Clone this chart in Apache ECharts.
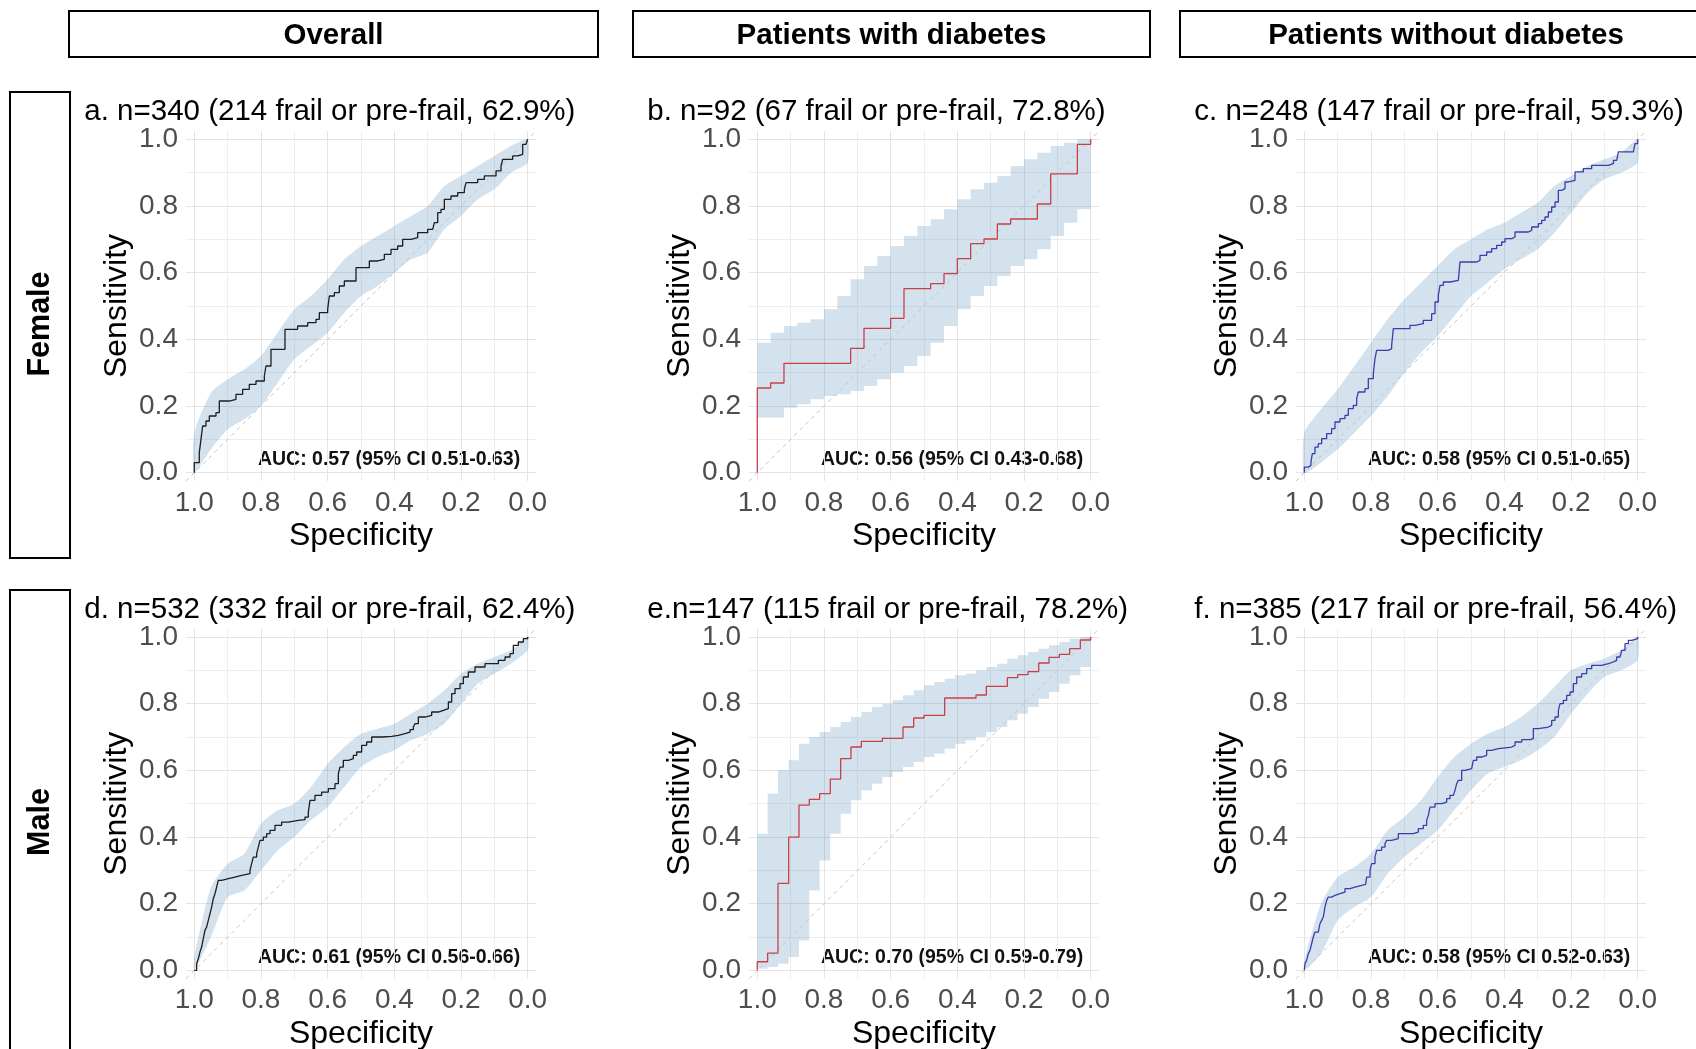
<!DOCTYPE html>
<html>
<head>
<meta charset="utf-8">
<script src="https://cdn.jsdelivr.net/npm/echarts@6.0.0/dist/echarts.min.js"></script>
<style>
html, body { margin: 0; padding: 0; background: #ffffff; }
#chart { width: 1696px; height: 1049px; }
</style>
</head>
<body>
<div id="chart"></div>
<script>
// ------------------------- DATA -------------------------
const colHeaders = ['Overall', 'Patients with diabetes', 'Patients without diabetes'];
const rowHeaders = ['Female', 'Male'];
const panelTitles = [
  'a. n=340 (214 frail or pre-frail, 62.9%)',
  'b. n=92 (67 frail or pre-frail, 72.8%)',
  'c. n=248 (147 frail or pre-frail, 59.3%)',
  'd. n=532 (332 frail or pre-frail, 62.4%)',
  'e.n=147 (115 frail or pre-frail, 78.2%)',
  'f. n=385 (217 frail or pre-frail, 56.4%)'
];
const aucTexts = [
  'AUC: 0.57 (95% CI 0.51-0.63)',
  'AUC: 0.56 (95% CI 0.43-0.68)',
  'AUC: 0.58 (95% CI 0.51-0.65)',
  'AUC: 0.61 (95% CI 0.56-0.66)',
  'AUC: 0.70 (95% CI 0.59-0.79)',
  'AUC: 0.58 (95% CI 0.52-0.63)'
];
const axisTickValues = [0.0, 0.2, 0.4, 0.6, 0.8, 1.0];
const refLine = [[1.025, -0.025], [-0.025, 1.025]];

// ROC curves (specificity, sensitivity)
const aSpec = [1,1,0.985,0.98,0.975,0.965,0.955,0.935,0.925,0.895,0.875,0.855,0.835,0.815,0.79,0.785,0.77,0.728,0.69,0.66,0.635,0.625,0.60,0.595,0.58,0.565,0.55,0.515,0.475,0.45,0.43,0.41,0.39,0.375,0.35,0.33,0.30,0.285,0.28,0.27,0.26,0.25,0.23,0.21,0.19,0.185,0.15,0.13,0.095,0.08,0.075,0.045,0.03,0.015,0.005,0];
const aSens = [0,0.03,0.06,0.10,0.14,0.155,0.17,0.18,0.215,0.22,0.235,0.25,0.265,0.275,0.29,0.32,0.37,0.43,0.44,0.45,0.46,0.48,0.49,0.53,0.54,0.56,0.575,0.615,0.635,0.64,0.655,0.67,0.68,0.70,0.705,0.72,0.73,0.735,0.75,0.78,0.79,0.82,0.83,0.84,0.85,0.87,0.88,0.89,0.905,0.92,0.94,0.95,0.955,0.985,0.99,1.0];

const bSpec = [1,1,0.96,0.92,0.72,0.68,0.60,0.56,0.48,0.44,0.40,0.36,0.32,0.28,0.24,0.16,0.12,0.04,0];
const bSens = [0,0.254,0.269,0.328,0.373,0.433,0.463,0.552,0.567,0.597,0.642,0.687,0.701,0.746,0.761,0.806,0.896,0.985,1];

const cSpec = [1,1,0.988,0.98,0.976,0.968,0.958,0.948,0.933,0.918,0.908,0.893,0.878,0.868,0.853,0.843,0.838,0.818,0.808,0.793,0.788,0.783,0.748,0.738,0.733,0.683,0.668,0.643,0.618,0.608,0.598,0.593,0.583,0.563,0.538,0.533,0.483,0.473,0.453,0.438,0.423,0.408,0.398,0.378,0.368,0.328,0.318,0.298,0.288,0.278,0.268,0.258,0.248,0.238,0.228,0.218,0.208,0.188,0.163,0.138,0.088,0.073,0.063,0.058,0.013,0.008,0];
const cSens = [0,0.017,0.022,0.032,0.057,0.077,0.087,0.102,0.117,0.132,0.152,0.162,0.172,0.192,0.202,0.222,0.242,0.252,0.282,0.297,0.342,0.367,0.372,0.382,0.432,0.442,0.447,0.457,0.477,0.512,0.532,0.562,0.572,0.577,0.582,0.632,0.637,0.652,0.662,0.672,0.682,0.692,0.702,0.707,0.722,0.727,0.737,0.747,0.757,0.767,0.782,0.797,0.812,0.847,0.852,0.872,0.877,0.902,0.912,0.922,0.927,0.937,0.942,0.962,0.967,0.987,1.0];

const dSpec = [1,0.993,0.988,0.983,0.978,0.973,0.968,0.963,0.958,0.953,0.948,0.943,0.938,0.933,0.928,0.918,0.898,0.878,0.858,0.833,0.828,0.823,0.813,0.808,0.803,0.793,0.783,0.773,0.758,0.738,0.718,0.688,0.668,0.658,0.653,0.638,0.618,0.598,0.578,0.568,0.563,0.553,0.538,0.523,0.513,0.498,0.483,0.468,0.438,0.408,0.388,0.368,0.353,0.343,0.338,0.328,0.308,0.288,0.268,0.253,0.238,0.228,0.218,0.203,0.193,0.178,0.158,0.128,0.088,0.068,0.053,0.043,0.028,0.013,0];
const dSens = [0,0.02,0.035,0.055,0.07,0.095,0.12,0.13,0.15,0.17,0.19,0.215,0.23,0.25,0.27,0.275,0.28,0.285,0.29,0.30,0.32,0.34,0.35,0.37,0.39,0.40,0.41,0.42,0.435,0.445,0.45,0.452,0.46,0.475,0.51,0.525,0.535,0.545,0.56,0.59,0.61,0.63,0.635,0.645,0.655,0.675,0.685,0.70,0.702,0.705,0.71,0.715,0.722,0.73,0.74,0.76,0.765,0.775,0.78,0.785,0.805,0.83,0.845,0.86,0.88,0.895,0.91,0.92,0.93,0.94,0.95,0.975,0.985,0.995,1];

const eSpec = [1,1,0.969,0.938,0.906,0.875,0.844,0.813,0.781,0.75,0.719,0.688,0.625,0.563,0.531,0.5,0.438,0.344,0.313,0.25,0.219,0.188,0.156,0.125,0.094,0.063,0.031,0];
const eSens = [0,0.026,0.052,0.261,0.4,0.496,0.513,0.530,0.574,0.635,0.670,0.687,0.696,0.730,0.757,0.765,0.817,0.826,0.852,0.878,0.887,0.896,0.922,0.939,0.948,0.965,0.991,1];

const fSpec = [1,0.998,0.993,0.988,0.983,0.978,0.973,0.968,0.958,0.953,0.948,0.943,0.938,0.933,0.928,0.918,0.908,0.893,0.878,0.863,0.848,0.828,0.816,0.813,0.803,0.798,0.788,0.783,0.768,0.758,0.753,0.738,0.718,0.673,0.658,0.643,0.633,0.628,0.623,0.608,0.588,0.573,0.563,0.553,0.548,0.543,0.538,0.528,0.518,0.498,0.493,0.483,0.468,0.453,0.438,0.418,0.403,0.378,0.368,0.348,0.323,0.313,0.298,0.268,0.258,0.248,0.238,0.233,0.223,0.213,0.203,0.193,0.183,0.168,0.153,0.138,0.108,0.088,0.073,0.063,0.053,0.048,0.038,0.028,0.018,0];
const fSens = [0,0.02,0.03,0.05,0.06,0.08,0.10,0.115,0.12,0.14,0.15,0.16,0.19,0.21,0.22,0.225,0.23,0.235,0.245,0.25,0.255,0.258,0.26,0.28,0.30,0.32,0.34,0.36,0.37,0.38,0.39,0.395,0.41,0.415,0.425,0.435,0.45,0.465,0.49,0.50,0.505,0.515,0.525,0.53,0.54,0.56,0.57,0.60,0.605,0.61,0.63,0.64,0.645,0.66,0.665,0.667,0.67,0.675,0.685,0.692,0.695,0.725,0.73,0.735,0.75,0.76,0.78,0.80,0.81,0.825,0.835,0.86,0.88,0.89,0.905,0.915,0.92,0.925,0.93,0.94,0.945,0.96,0.98,0.99,0.995,1];

// 95% CI bands of sensitivity
const bandGrid = [1,0.95,0.9,0.85,0.8,0.75,0.7,0.65,0.6,0.55,0.5,0.45,0.4,0.35,0.3,0.25,0.2,0.15,0.1,0.05,0];
const aHi = [0.12,0.24,0.28,0.31,0.35,0.42,0.49,0.53,0.58,0.64,0.68,0.71,0.74,0.77,0.80,0.86,0.89,0.92,0.95,0.98,1.0];
const aLo = [0,0.07,0.13,0.16,0.20,0.27,0.34,0.38,0.42,0.48,0.53,0.56,0.60,0.64,0.66,0.73,0.77,0.82,0.85,0.90,0.93];
const cHi = [0.12,0.19,0.25,0.32,0.39,0.46,0.52,0.57,0.62,0.67,0.70,0.73,0.75,0.78,0.81,0.86,0.89,0.92,0.94,0.96,1.0];
const cLo = [0,0.03,0.07,0.12,0.17,0.23,0.30,0.36,0.41,0.47,0.53,0.57,0.61,0.64,0.67,0.72,0.78,0.84,0.88,0.90,0.93];
const dHi = [0.04,0.25,0.32,0.35,0.44,0.48,0.50,0.55,0.62,0.67,0.71,0.725,0.74,0.77,0.80,0.84,0.89,0.92,0.94,0.96,1.0];
const dLo = [0,0.10,0.22,0.24,0.30,0.36,0.40,0.45,0.49,0.55,0.61,0.64,0.66,0.69,0.71,0.74,0.80,0.86,0.89,0.92,0.96];
const fHi = [0.03,0.20,0.28,0.31,0.35,0.42,0.46,0.51,0.58,0.64,0.68,0.71,0.73,0.76,0.80,0.85,0.90,0.92,0.935,0.96,1.0];
const fLo = [0,0.05,0.15,0.19,0.22,0.29,0.34,0.38,0.42,0.48,0.54,0.59,0.61,0.63,0.66,0.70,0.77,0.83,0.88,0.90,0.93];

const bBandSpec = [1,0.96,0.92,0.88,0.84,0.80,0.76,0.72,0.68,0.64,0.60,0.56,0.52,0.48,0.44,0.40,0.36,0.32,0.28,0.24,0.20,0.16,0.12,0.08,0.04,0];
const bHi = [0.39,0.42,0.44,0.45,0.46,0.49,0.53,0.58,0.62,0.65,0.68,0.71,0.74,0.76,0.79,0.82,0.85,0.87,0.89,0.92,0.94,0.96,0.98,0.99,1.0,1.0];
const bLo = [0.165,0.165,0.195,0.205,0.22,0.23,0.235,0.245,0.26,0.28,0.30,0.32,0.35,0.39,0.44,0.49,0.53,0.56,0.59,0.62,0.64,0.67,0.71,0.75,0.79,0.81];

const eBandSpec = [1,0.969,0.938,0.906,0.875,0.844,0.813,0.781,0.75,0.719,0.688,0.656,0.625,0.594,0.563,0.531,0.5,0.469,0.438,0.406,0.375,0.344,0.313,0.281,0.25,0.219,0.188,0.156,0.125,0.094,0.063,0.031,0];
const eHi = [0.41,0.53,0.60,0.63,0.68,0.70,0.715,0.73,0.745,0.76,0.775,0.79,0.80,0.81,0.825,0.84,0.855,0.865,0.875,0.885,0.89,0.90,0.91,0.92,0.935,0.945,0.955,0.965,0.975,0.985,0.995,1.0,1.0];
const eLo = [0.005,0.01,0.02,0.04,0.09,0.24,0.33,0.41,0.47,0.51,0.54,0.56,0.58,0.595,0.61,0.625,0.64,0.65,0.665,0.68,0.69,0.70,0.715,0.73,0.75,0.77,0.79,0.815,0.835,0.86,0.885,0.91,0.93];

// ------------------------- LAYOUT / STYLE -------------------------
const FONT = '"Liberation Sans", Arial, Helvetica, sans-serif';
const COL_LEFT = [194.3, 757.3, 1304.3];
const ROW_TOP = [139.3, 637.0];
const SIZE = 333.4;
const EXP = 0.025;
const PAD = SIZE * EXP;
const curveColors = ['#1e1e1e', '#c8404a', '#3c3cab'];
const bandFill = 'rgba(70,130,180,0.23)';
const T = 'rgba(0,0,0,0)';
const splitColors = [T, '#e4e4e4', T, T, T, '#eeeeee', T, T];

const panels = [
  { spec: aSpec, sens: aSens, bs: bandGrid, lo: aLo, hi: aHi, stepped: false },
  { spec: bSpec, sens: bSens, bs: bBandSpec, lo: bLo, hi: bHi, stepped: true },
  { spec: cSpec, sens: cSens, bs: bandGrid, lo: cLo, hi: cHi, stepped: false },
  { spec: dSpec, sens: dSens, bs: bandGrid, lo: dLo, hi: dHi, stepped: false },
  { spec: eSpec, sens: eSens, bs: eBandSpec, lo: eLo, hi: eHi, stepped: true },
  { spec: fSpec, sens: fSens, bs: bandGrid, lo: fLo, hi: fHi, stepped: false }
];

function tickLabel(v) {
  for (const t of axisTickValues) {
    if (Math.abs(v - t) < 1e-6) return t.toFixed(1);
  }
  return '';
}

const grids = [], xAxes = [], yAxes = [], series = [], graphics = [];

panels.forEach(function (p, i) {
  const r = Math.floor(i / 3), c = i % 3;
  const L = COL_LEFT[c], Tp = ROW_TOP[r];
  grids.push({ left: L - PAD, top: Tp - PAD, width: SIZE + 2 * PAD, height: SIZE + 2 * PAD, containLabel: false, outerBoundsMode: 'none' });
  const common = {
    gridIndex: i, type: 'value', min: -EXP, max: 1 + EXP, interval: 0.025,
    axisLine: { show: false }, axisTick: { show: false },
    axisLabel: { formatter: tickLabel, color: '#4d4d4d', fontSize: 28, fontFamily: FONT, showMinLabel: true, showMaxLabel: true },
    splitLine: { show: true, showMinLine: true, showMaxLine: true, lineStyle: { color: splitColors, width: 1 } },
    nameLocation: 'middle', nameMoveOverlap: false,
    nameTextStyle: { fontSize: 32, color: '#000', fontFamily: FONT }
  };
  xAxes.push(Object.assign({}, common, {
    inverse: true, name: 'Specificity', nameGap: 39,
    axisLabel: Object.assign({}, common.axisLabel, { margin: 8 })
  }));
  yAxes.push(Object.assign({}, common, {
    name: 'Sensitivity', nameGap: 53,
    axisLabel: Object.assign({}, common.axisLabel, { margin: 8 })
  }));

  // CI band
  series.push({
    type: 'custom', xAxisIndex: i, yAxisIndex: i, z: 2, silent: true, clip: false,
    data: p.bs.map(function (s, k) { return [s, p.lo[k], p.hi[k]]; }),
    encode: { x: 0, y: [1, 2] },
    renderItem: function (params, api) {
      if (params.dataIndex !== 0) return null;
      const n = p.bs.length;
      const pts = [];
      if (p.stepped) {
        for (let k = 0; k < n - 1; k++) {
          pts.push(api.coord([p.bs[k], p.hi[k]]));
          pts.push(api.coord([p.bs[k + 1], p.hi[k]]));
        }
        pts.push(api.coord([p.bs[n - 1], p.hi[n - 1]]));
        pts.push(api.coord([p.bs[n - 1], p.lo[n - 1]]));
        for (let k = n - 2; k >= 0; k--) {
          pts.push(api.coord([p.bs[k + 1], p.lo[k]]));
          pts.push(api.coord([p.bs[k], p.lo[k]]));
        }
      } else {
        for (let k = 0; k < n; k++) pts.push(api.coord([p.bs[k], p.hi[k]]));
        for (let k = n - 1; k >= 0; k--) pts.push(api.coord([p.bs[k], p.lo[k]]));
      }
      return { type: 'polygon', shape: { points: pts, smooth: p.stepped ? 0 : 0.2 }, style: { fill: bandFill, stroke: null } };
    }
  });
  // chance diagonal
  series.push({
    type: 'line', xAxisIndex: i, yAxisIndex: i, z: 3, silent: true, symbol: 'none', showSymbol: false,
    data: refLine, lineStyle: { color: '#c4c4c4', width: 1, type: [4, 4] }, clip: true
  });
  // ROC curve
  series.push({
    type: 'line', xAxisIndex: i, yAxisIndex: i, z: 4, silent: true, symbol: 'none', showSymbol: false,
    step: 'end', data: p.spec.map(function (s, k) { return [s, p.sens[k]]; }),
    lineStyle: { color: curveColors[c], width: 1.3 }, clip: true
  });

  // panel title
  graphics.push({ type: 'text', x: L - 110, y: Tp - 27,
    style: { text: panelTitles[i], fill: '#000', font: '29.5px ' + FONT, textAlign: 'left', textVerticalAlign: 'middle' } });
  // AUC annotation
  graphics.push({ type: 'text', x: L + SIZE - 7.5, y: Tp + SIZE - 13,
    style: { text: aucTexts[i], fill: '#111', font: 'bold 19.5px ' + FONT, textAlign: 'right', textVerticalAlign: 'middle' } });
});

// column headers
const headerBoxes = [[69, 529], [633, 517], [1180, 540]];
const headerCenters = [333.5, 891.5, 1446];
colHeaders.forEach(function (h, k) {
  graphics.push({ type: 'rect', shape: { x: headerBoxes[k][0], y: 11, width: headerBoxes[k][1], height: 46 },
    style: { fill: 'none', stroke: '#000', lineWidth: 2 } });
  graphics.push({ type: 'text', x: headerCenters[k], y: 35.5,
    style: { text: h, fill: '#000', font: 'bold 29.5px ' + FONT, textAlign: 'center', textVerticalAlign: 'middle' } });
});
// row headers
const rowBoxes = [[92, 466], [590, 480]];
const rowCenters = [324, 822];
rowHeaders.forEach(function (h, k) {
  graphics.push({ type: 'rect', shape: { x: 10, y: rowBoxes[k][0], width: 60, height: rowBoxes[k][1] },
    style: { fill: 'none', stroke: '#000', lineWidth: 2 } });
  graphics.push({ type: 'text', x: 41, y: rowCenters[k], rotation: Math.PI / 2,
    style: { text: h, fill: '#000', font: 'bold 30.5px ' + FONT, textAlign: 'center', textVerticalAlign: 'middle' } });
});

const chart = echarts.init(document.getElementById('chart'), null, { renderer: 'canvas' });
chart.setOption({
  backgroundColor: '#ffffff',
  animation: false,
  grid: grids,
  xAxis: xAxes,
  yAxis: yAxes,
  series: series,
  graphic: { elements: graphics }
});
</script>
</body>
</html>
